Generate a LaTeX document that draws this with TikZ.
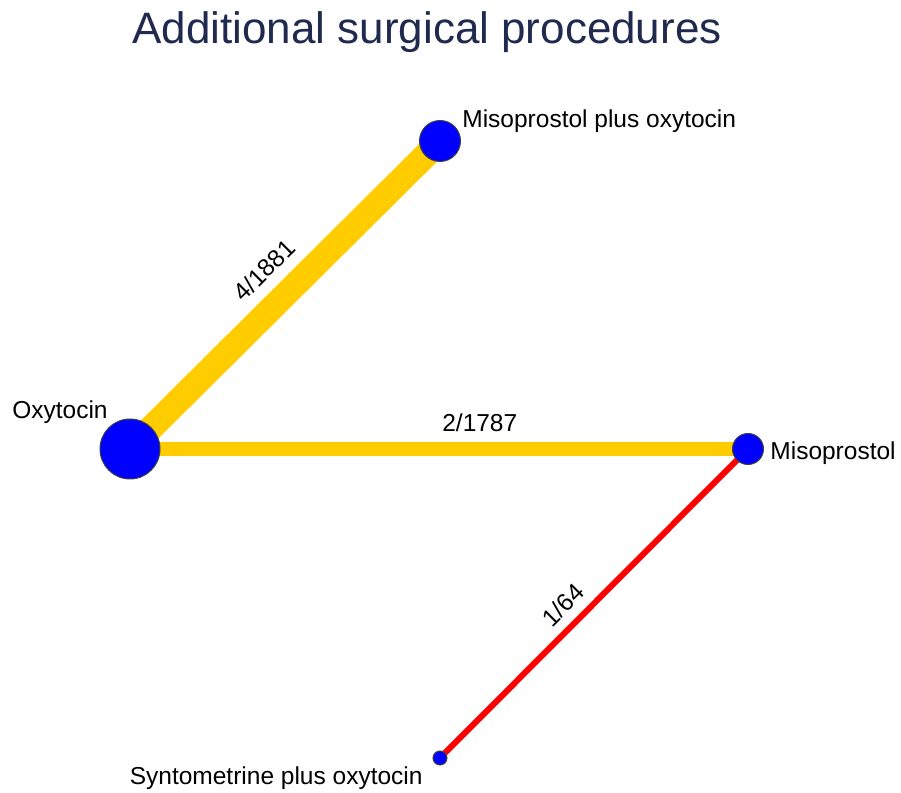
\documentclass[tikz,border=0pt]{standalone}
\usepackage{fontspec}
\setmainfont{Liberation Sans}
\usepackage{xcolor}
\usepackage{tikz}
\usetikzlibrary{positioning}
\definecolor{trtblue}{HTML}{0000FF}
\definecolor{evyellow}{HTML}{FFCC00}
\definecolor{evred}{HTML}{FF0000}
\definecolor{titlenavy}{HTML}{1F2A4E}
\pgfdeclarelayer{bg}
\pgfsetlayers{bg,main}

\begin{document}
\begin{tikzpicture}[x=0.5pt,y=0.5pt,
  trt/.style={circle,draw=black!75,line width=0.5pt,fill=trtblue,
              inner sep=0pt,minimum size=#1},
  trtname/.style={font=\fontsize{12.25}{14}\selectfont,inner sep=0pt},
  elab/.style={font=\fontsize{12.25}{14}\selectfont,text=black,inner sep=0pt,above},
  ev/.style={evyellow,line width=#1},
  evlow/.style={evred,line width=3pt}]
\useasboundingbox (0,0) rectangle (901,793);
\node[font=\fontsize{22}{26}\selectfont,text=titlenavy,anchor=base] (title) at (427,749) {Additional\ surgical procedures};
% treatments
\node[trt=30pt] (oxy) at (130,344) {};
\node[trt=20.5pt] (mpo) at (440,652) {};
\node[trt=15.5pt] (miso) at (748,344) {};
\node[trt=7pt] (syn) at (440,35) {};
\node[trtname,anchor=base east] (oxyname) at (108,374) {Oxytocin};
\node[trtname,anchor=base west] (mponame) at (462,665) {Misoprostol plus oxytocin};
\node[trtname,anchor=base west] (misoname) at (770,333) {Misoprostol};
\node[trtname,anchor=base east] (synname) at (423,8) {Syntometrine plus oxytocin};
% comparisons
\begin{pgfonlayer}{bg}
\draw[ev=12.5pt] (oxy.center) -- node[elab,sloped,pos=.506,outer sep=11.7pt] (e1) {4/1881} (mpo.center);
\draw[ev=7pt] (oxy.center) -- node[elab,pos=.566,outer sep=8.8pt] (e2) {2/1787} (miso.center);
\draw[evlow] (syn.center) -- node[elab,sloped,pos=.447,outer sep=6pt] (e3) {1/64} (miso.center);
\end{pgfonlayer}
\end{tikzpicture}
\end{document}
